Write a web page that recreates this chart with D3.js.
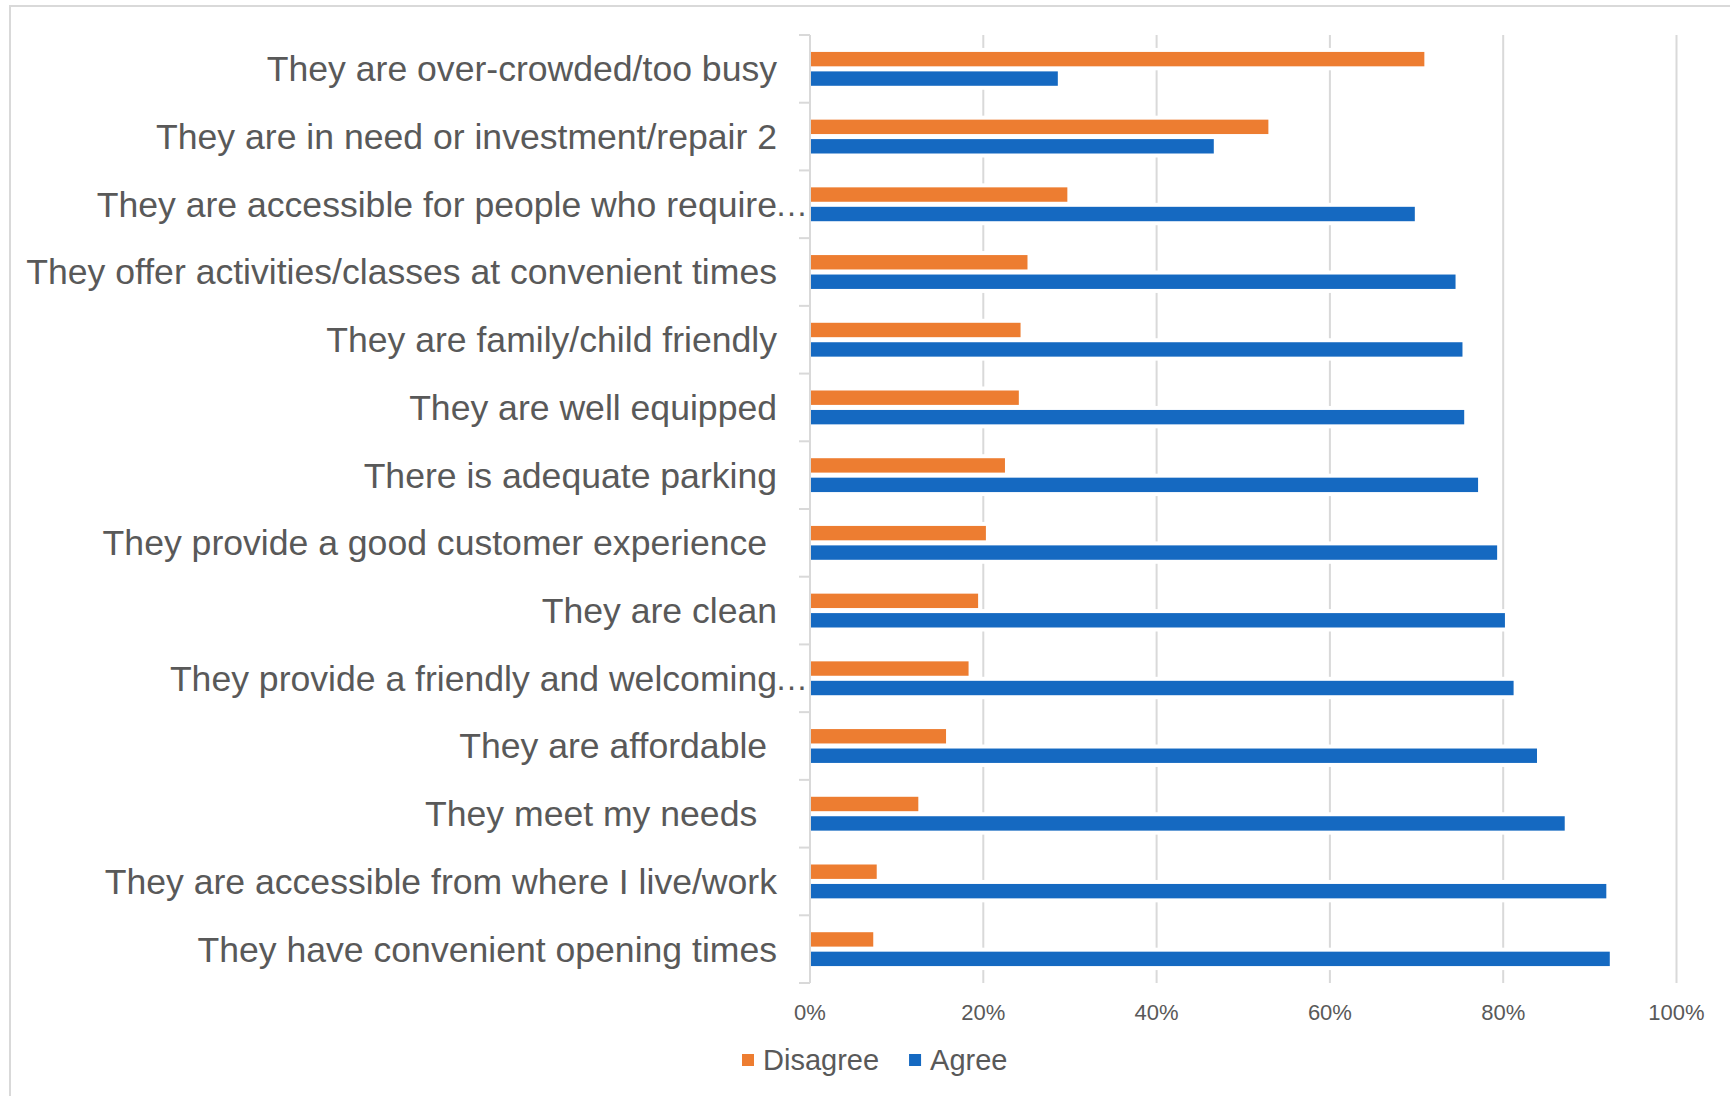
<!DOCTYPE html>
<html>
<head>
<meta charset="utf-8">
<script src="https://cdn.jsdelivr.net/npm/d3@7"></script>
<style>
  html, body { margin: 0; padding: 0; background: #ffffff; }
  svg { display: block; }
  text { font-family: "Liberation Sans", Arial, sans-serif; fill: #595959; white-space: pre; }
</style>
</head>
<body>
<svg id="chart" width="1730" height="1096"></svg>
<script>
// Survey statements (top to bottom) and share of respondents per answer
const categories = [
  "They are over-crowded/too busy",
  "They are in need or investment/repair 2",
  "They are accessible for people who require\u2026",
  "They offer activities/classes at convenient times",
  "They are family/child friendly",
  "They are well equipped",
  "There is adequate parking",
  "They provide a good customer experience ",
  "They are clean",
  "They provide a friendly and welcoming\u2026",
  "They are affordable ",
  "They meet my needs  ",
  "They are accessible from where I live/work",
  "They have convenient opening times"
];
const seriesNames = ["Disagree", "Agree"];
const disagree = [0.709, 0.529, 0.297, 0.251, 0.243, 0.241, 0.225, 0.203, 0.194, 0.183, 0.157, 0.125, 0.077, 0.073];
const agree    = [0.286, 0.466, 0.698, 0.745, 0.753, 0.755, 0.771, 0.793, 0.802, 0.812, 0.839, 0.871, 0.919, 0.923];
const xTicks = [0, 0.2, 0.4, 0.6, 0.8, 1.0];

const colors = { Disagree: "#ed7d31", Agree: "#1569c1" };
const gridColor = "#d9d9d9";

const rows = categories.map((c, i) => ({ category: c, Disagree: disagree[i], Agree: agree[i] }));

const svg = d3.select("#chart");

// outer chart frame
svg.append("rect")
  .attr("x", 10).attr("y", 6)
  .attr("width", 1760).attr("height", 1120)
  .attr("fill", "none").attr("stroke", gridColor).attr("stroke-width", 2);

const plotTop = 35, plotBottom = 983;
const x = d3.scaleLinear().domain([0, 1]).range([810, 1676.5]);
const y = d3.scaleBand().domain(categories).range([plotTop, plotBottom])
  .paddingInner(0.5).paddingOuter(0.25);
const ySub = d3.scaleBand().domain(seriesNames).range([0, y.bandwidth()]).paddingInner(0.26);

// vertical gridlines
svg.append("g").selectAll("line")
  .data(xTicks.filter(t => t > 0))
  .join("line")
  .attr("x1", d => x(d)).attr("x2", d => x(d))
  .attr("y1", plotTop).attr("y2", plotBottom)
  .attr("stroke", gridColor).attr("stroke-width", 2);

// category axis: line plus boundary ticks
const step = y.step();
const boundaries = d3.range(categories.length + 1).map(i => plotTop + i * step);
const axisG = svg.append("g");
axisG.append("line")
  .attr("x1", x(0)).attr("x2", x(0))
  .attr("y1", plotTop).attr("y2", plotBottom)
  .attr("stroke", gridColor).attr("stroke-width", 2);
axisG.selectAll("line.tick")
  .data(boundaries)
  .join("line").attr("class", "tick")
  .attr("x1", x(0) - 11).attr("x2", x(0))
  .attr("y1", d => d).attr("y2", d => d)
  .attr("stroke", gridColor).attr("stroke-width", 2);

// bars
const groups = svg.append("g").selectAll("g")
  .data(rows)
  .join("g")
  .attr("transform", d => `translate(0,${y(d.category)})`);

const barData = d => seriesNames.map(k => ({ key: k, value: d[k] }));

// white halo behind bars so gridlines break around them
groups.selectAll("rect.halo")
  .data(barData)
  .join("rect").attr("class", "halo")
  .attr("x", x(0) + 1)
  .attr("y", d => ySub(d.key) - 4)
  .attr("width", d => x(d.value) - x(0) + 2)
  .attr("height", ySub.bandwidth() + 8)
  .attr("fill", "#ffffff");

groups.selectAll("rect.bar")
  .data(barData)
  .join("rect").attr("class", "bar")
  .attr("x", x(0) + 1)
  .attr("y", d => ySub(d.key))
  .attr("width", d => x(d.value) - x(0) - 1)
  .attr("height", ySub.bandwidth())
  .attr("fill", d => colors[d.key]);

// category labels (truncated ones keep their ellipsis past the label edge)
const labelX = 777;
const labels = svg.append("g").selectAll("g")
  .data(categories)
  .join("g")
  .attr("transform", d => `translate(0,${y(d) + y.bandwidth() / 2})`);
labels.append("text")
  .attr("x", labelX)
  .attr("dy", "0.35em")
  .attr("text-anchor", "end")
  .style("font-size", "35.6px")
  .text(d => d.endsWith("\u2026") ? d.slice(0, -1) : d);
labels.filter(d => d.endsWith("\u2026"))
  .append("text")
  .attr("x", labelX - 2)
  .attr("dy", "0.35em")
  .attr("text-anchor", "start")
  .style("font-size", "33px")
  .text("\u2026");

// value axis labels
const fmt = d3.format(".0%");
svg.append("g").selectAll("text")
  .data(xTicks)
  .join("text")
  .attr("x", d => x(d))
  .attr("y", 1012)
  .attr("dy", "0.35em")
  .attr("text-anchor", "middle")
  .style("font-size", "22px")
  .text(d => fmt(d));

// legend
const legend = svg.append("g").attr("transform", "translate(742,1060)");
let lx = 0;
seriesNames.forEach(name => {
  const item = legend.append("g").attr("transform", `translate(${lx},0)`);
  item.append("rect")
    .attr("x", 0).attr("y", -6)
    .attr("width", 12).attr("height", 12)
    .attr("fill", colors[name]);
  const t = item.append("text")
    .attr("x", 21).attr("dy", "0.35em")
    .style("font-size", "29px")
    .text(name);
  lx += 21 + t.node().getComputedTextLength() + 30;
});
</script>
</body>
</html>
